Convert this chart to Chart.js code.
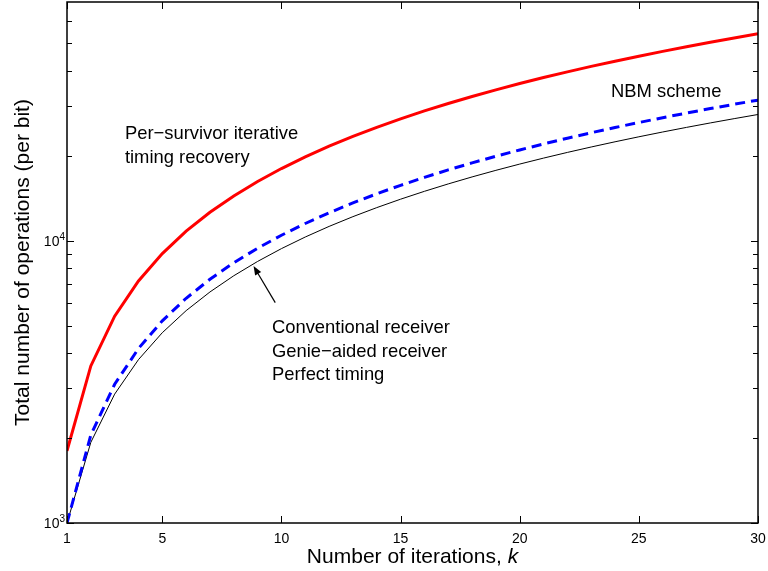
<!DOCTYPE html>
<html>
<head>
<meta charset="utf-8">
<style>
  html, body { margin: 0; padding: 0; background: #fff; }
  canvas { display: block; }
</style>
</head>
<body>
<canvas id="opsChart" width="768" height="571"></canvas>
<script src="https://cdn.jsdelivr.net/npm/chart.js"></script>
<script>
    // number of iterations k
    const iterations = [1, 2, 3, 4, 5, 6, 7, 8, 9, 10, 11, 12, 13, 14, 15,
        16, 17, 18, 19, 20, 21, 22, 23, 24, 25, 26, 27, 28, 29, 30];

    // total operations per bit for each receiver
    const perSurvivorOps = [1800, 3600, 5400, 7200, 9000, 10800, 12600, 14400, 16200, 18000,
        19800, 21600, 23400, 25200, 27000, 28800, 30600, 32400, 34200, 36000,
        37800, 39600, 41400, 43200, 45000, 46800, 48600, 50400, 52200, 54000];
    const nbmOps = [1000, 2050, 3100, 4150, 5200, 6250, 7300, 8350, 9400, 10450,
        11500, 12550, 13600, 14650, 15700, 16750, 17800, 18850, 19900, 20950,
        22000, 23050, 24100, 25150, 26200, 27250, 28300, 29350, 30400, 31450];
    const conventionalOps = [1000, 1930, 2860, 3790, 4720, 5650, 6580, 7510, 8440, 9370,
        10300, 11230, 12160, 13090, 14020, 14950, 15880, 16810, 17740, 18670,
        19600, 20530, 21460, 22390, 23320, 24250, 25180, 26110, 27040, 27970];

    // axis ticks
    const xTicks = [1, 5, 10, 15, 20, 25, 30];
    const yMajorTicks = [1000, 10000];
    const yMinorTicks = [2000, 3000, 4000, 5000, 6000, 7000, 8000, 9000,
        20000, 30000, 40000, 50000, 60000];

    const FONT = '"Liberation Sans", Arial, Helvetica, sans-serif';

    const toPoints = (vals) => vals.map((v, i) => ({ x: iterations[i], y: v }));

    // writes lines of text starting at a data-space anchor
    const noteAt = (ctx, chart, k, ops, lines, size, gap) => {
        const px = chart.scales.x.getPixelForValue(k);
        const py = chart.scales.y.getPixelForValue(ops);
        ctx.font = size + 'px ' + FONT;
        ctx.textAlign = 'left';
        ctx.textBaseline = 'alphabetic';
        lines.forEach((t, i) => ctx.fillText(t, px, py + i * gap));
    };

    const frame = {
        id: 'frame',
        afterDatasetsDraw(chart) {
            const { ctx, chartArea: a, scales: { x, y } } = chart;
            ctx.save();
            ctx.strokeStyle = '#000';
            ctx.fillStyle = '#000';

            // inward ticks on all four sides
            ctx.lineWidth = 1;
            ctx.beginPath();
            xTicks.forEach(v => {
                const px = Math.round(x.getPixelForValue(v)) + 0.5;
                ctx.moveTo(px, a.bottom); ctx.lineTo(px, a.bottom - 7);
                ctx.moveTo(px, a.top); ctx.lineTo(px, a.top + 7);
            });
            yMajorTicks.forEach(v => {
                const py = Math.round(y.getPixelForValue(v)) + 0.5;
                ctx.moveTo(a.left, py); ctx.lineTo(a.left + 7, py);
                ctx.moveTo(a.right, py); ctx.lineTo(a.right - 7, py);
            });
            yMinorTicks.forEach(v => {
                const py = Math.round(y.getPixelForValue(v)) + 0.5;
                ctx.moveTo(a.left, py); ctx.lineTo(a.left + 5, py);
                ctx.moveTo(a.right, py); ctx.lineTo(a.right - 5, py);
            });
            ctx.stroke();

            // axes box
            ctx.lineWidth = 1.5;
            ctx.strokeRect(a.left, a.top, a.right - a.left, a.bottom - a.top);

            // x tick labels
            ctx.font = '14px ' + FONT;
            ctx.textAlign = 'center';
            ctx.textBaseline = 'alphabetic';
            xTicks.forEach(v => ctx.fillText(String(v), x.getPixelForValue(v), a.bottom + 20));

            // y tick labels as powers of ten
            yMajorTicks.forEach(v => {
                const py = y.getPixelForValue(v);
                const exp = String(Math.round(Math.log10(v)));
                ctx.font = '10px ' + FONT;
                const ew = ctx.measureText(exp).width;
                ctx.textAlign = 'right';
                ctx.fillText(exp, a.left - 2, py - 1);
                ctx.font = '14px ' + FONT;
                ctx.fillText('10', a.left - 2 - ew, py + 5);
            });

            // x axis title with italic k
            const xLead = 'Number of iterations, ';
            ctx.font = '21px ' + FONT;
            const w1 = ctx.measureText(xLead).width;
            ctx.font = 'italic 21px ' + FONT;
            const w2 = ctx.measureText('k').width;
            const xStart = (a.left + a.right) / 2 - (w1 + w2) / 2;
            ctx.textAlign = 'left';
            ctx.font = '21px ' + FONT;
            ctx.fillText(xLead, xStart, a.bottom + 40);
            ctx.font = 'italic 21px ' + FONT;
            ctx.fillText('k', xStart + w1, a.bottom + 40);

            // y axis title
            ctx.save();
            ctx.translate(29, (a.top + a.bottom) / 2);
            ctx.rotate(-Math.PI / 2);
            ctx.font = '21px ' + FONT;
            ctx.textAlign = 'center';
            ctx.fillText('Total number of operations (per bit)', 0, 0);
            ctx.restore();

            // curve annotations
            noteAt(ctx, chart, 3.43, 22900, ['Per\u2212survivor iterative', 'timing recovery'], 18.4, 24);
            noteAt(ctx, chart, 23.83, 32270, ['NBM scheme'], 18.4, 24);
            noteAt(ctx, chart, 9.6, 4690, ['Conventional receiver', 'Genie\u2212aided receiver', 'Perfect timing'], 18.4, 23.5);

            // arrow to the conventional receiver curve
            const tx = x.getPixelForValue(8.83), ty = y.getPixelForValue(8130);
            const sx = x.getPixelForValue(9.74), sy = y.getPixelForValue(6030);
            const ang = Math.atan2(ty - sy, tx - sx);
            ctx.lineWidth = 1.2;
            ctx.beginPath();
            ctx.moveTo(sx, sy);
            ctx.lineTo(tx - 6 * Math.cos(ang), ty - 6 * Math.sin(ang));
            ctx.stroke();
            ctx.beginPath();
            ctx.moveTo(tx, ty);
            ctx.lineTo(tx - 9 * Math.cos(ang) + 3.5 * Math.sin(ang), ty - 9 * Math.sin(ang) - 3.5 * Math.cos(ang));
            ctx.lineTo(tx - 9 * Math.cos(ang) - 3.5 * Math.sin(ang), ty - 9 * Math.sin(ang) + 3.5 * Math.cos(ang));
            ctx.closePath();
            ctx.fill();

            ctx.restore();
        }
    };

    const ctx = document.getElementById('opsChart').getContext('2d');
    const opsChart = new Chart(ctx, {
        type: 'line',
        data: {
            datasets: [{
                label: 'Per-survivor iterative timing recovery',
                data: toPoints(perSurvivorOps),
                borderColor: '#ff0000',
                borderWidth: 3
            }, {
                label: 'NBM scheme',
                data: toPoints(nbmOps),
                borderColor: '#0000ff',
                borderWidth: 3,
                borderDash: [10, 6]
            }, {
                label: 'Conventional receiver',
                data: toPoints(conventionalOps),
                borderColor: '#000000',
                borderWidth: 1
            }]
        },
        options: {
            responsive: false,
            animation: false,
            layout: { padding: { left: 67, right: 10, top: 2, bottom: 48 } },
            elements: { point: { radius: 0 }, line: { tension: 0 } },
            plugins: { legend: { display: false }, tooltip: { enabled: false } },
            scales: {
                x: { type: 'linear', min: 1, max: 30, display: false },
                y: { type: 'logarithmic', min: 1000, max: 70000, display: false }
            }
        },
        plugins: [frame]
    });
</script>
</body>
</html>
